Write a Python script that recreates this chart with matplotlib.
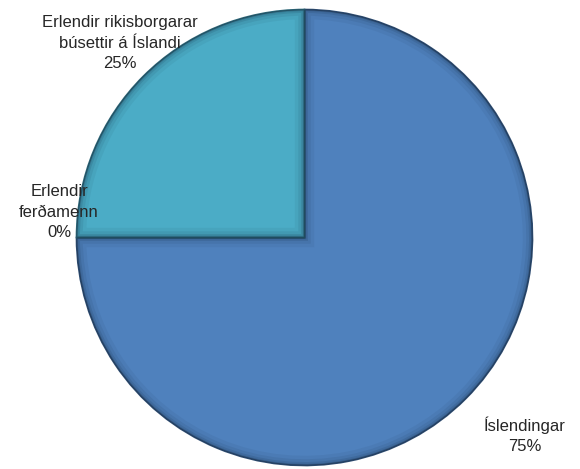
import matplotlib.pyplot as plt
from matplotlib.patches import PathPatch

plt.rcParams['font.family'] = ['Liberation Sans', 'DejaVu Sans']

labels = ["Íslendingar", "Erlendir\nferðamenn", "Erlendir rikisborgarar\nbúsettir á Íslandi"]
values = [75, 0, 25]
colors = ["#4f81bd", "#4bacc6", "#4bacc6"]
edge_colors = ["#2f4d72", "#2d6778", "#2d6778"]
# label centres (layout only)
label_pos = [(525, 34), (59, 257), (120, 426)]


def main():
    fig = plt.figure(figsize=(5.8, 4.69), dpi=100)
    ax = fig.add_axes([0, 0, 1, 1])

    wedges, texts = ax.pie(
        values, colors=colors, startangle=90, counterclock=False,
        center=(304.5, 231.5), radius=228, frame=True,
        labels=[f"{l}\n{v}%" for l, v in zip(labels, values)],
        wedgeprops=dict(linewidth=1.2),
        textprops=dict(fontsize=12, color="#262626", linespacing=1.45),
    )
    ax.set_xlim(0, 580)
    ax.set_ylim(0, 469)
    ax.set_aspect("equal")
    ax.axis("off")

    for w, ec, v in zip(wedges, edge_colors, values):
        w.set_edgecolor(ec)
        if v == 0:
            continue
        # soft inner shadow along the slice edges
        for lw, a in [(14, 0.06), (9, 0.08), (5, 0.12), (2.5, 0.18)]:
            p = PathPatch(w.get_path(), transform=ax.transData, fill=False,
                          edgecolor="#10243a", linewidth=lw, alpha=a)
            ax.add_patch(p)
            p.set_clip_path(w)

    for t, pos in zip(texts, label_pos):
        t.set_ha("center")
        t.set_va("center")
        t.set_multialignment("center")
        t.set_position(pos)

    fig.savefig("out.png", dpi=100)


if __name__ == "__main__":
    main()
